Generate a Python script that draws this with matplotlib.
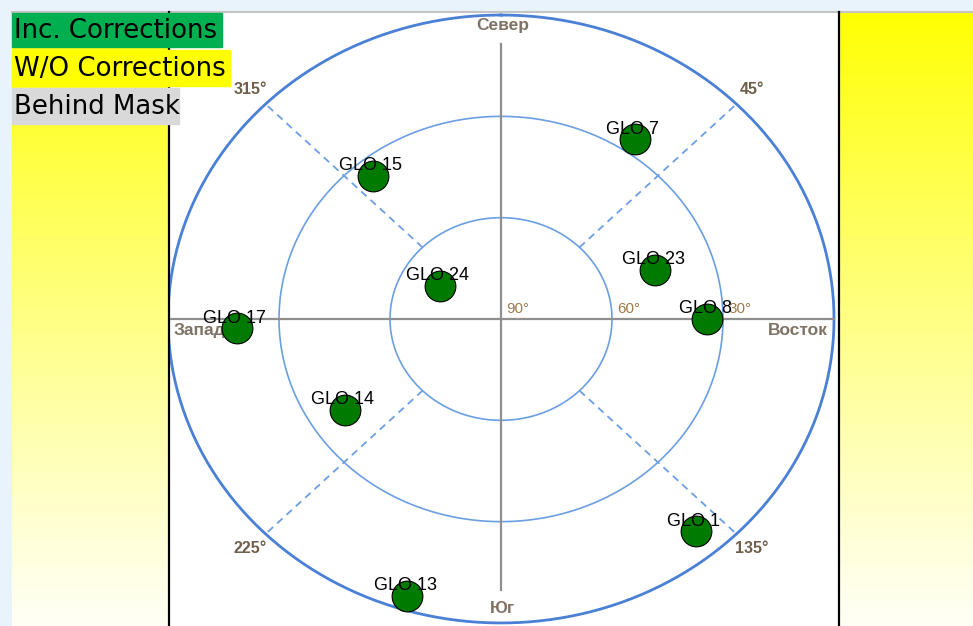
import numpy as np
import matplotlib
matplotlib.use("Agg")
import matplotlib.pyplot as plt
from matplotlib.patches import Rectangle

# Satellites: name, azimuth (deg, clockwise from north), elevation (deg)
sat_names = ["GLO 7", "GLO 15", "GLO 24", "GLO 23", "GLO 8",
             "GLO 17", "GLO 14", "GLO 1", "GLO 13"]
sat_az = [34.2, 320.7, 300.7, 70.8, 90.0, 267.8, 237.5, 140.0, 197.2]
sat_el = [25.6, 35.3, 70.8, 45.9, 34.3, 18.6, 40.0, 8.0, 4.2]

# Grid
ring_elev = [60, 30, 0]
elev_labels = ["90°", "60°", "30°"]
diag_az = [45, 135, 225, 315]
diag_labels = ["45°", "135°", "225°", "315°"]
compass = ["Север", "Восток", "Юг", "Запад"]

legend_labels = ["Inc. Corrections", "W/O Corrections", "Behind Mask"]
legend_colors = ["#00b050", "#ffff00", "#d9d9d9"]

W, H = 973, 626
fig = plt.figure(figsize=(W / 100, H / 100), dpi=100, facecolor="#e8f3fc")

# background panels (pixel coords)
bg = fig.add_axes([0, 0, 1, 1])
bg.set_xlim(0, W)
bg.set_ylim(H, 0)
bg.axis("off")
grad = np.linspace(0, 1, 256) ** 0.9
img = np.ones((256, 1, 3))
img[:, 0, 2] = grad * 0.97
bg.imshow(img, extent=(12, 168, H, 12), aspect="auto", zorder=1)
bg.imshow(img, extent=(840, W, H, 12), aspect="auto", zorder=1)
bg.add_patch(Rectangle((169, 12), 670, H - 12, color="white", zorder=1))
bg.plot([12, W], [11.5, 11.5], color="#c4c4c4", lw=1.5, zorder=2)
bg.plot([169, 169], [12, H], color="black", lw=1.6, zorder=2)
bg.plot([839, 839], [12, H], color="black", lw=1.6, zorder=2)

# legend boxes
box_rows = [(13, 47, 222), (50, 86, 230), (88, 124, 179)]
for (y0, y1, x1), lab, col in zip(box_rows, legend_labels, legend_colors):
    bg.add_patch(Rectangle((12, y0), x1 - 12, y1 - y0, color=col, zorder=3))
    bg.text(14, (y0 + y1) / 2 + 1.5, lab, fontsize=18.7, family="DejaVu Sans",
            va="center", ha="left", color="black", zorder=4)

# sky plot axes
ax = fig.add_axes([170 / W, 0, 668 / W, 614 / H])
ax.set_xlim(-89.46, 91.08)
ax.set_ylim(-90.9, 90.9)
ax.axis("off")
ax.patch.set_alpha(0)

t = np.linspace(0, 2 * np.pi, 400)
for el in ring_elev:
    r = 90 - el
    if el == 0:
        ax.plot(r * np.sin(t), r * np.cos(t), color="#4a80d6", lw=2.0, zorder=2)
    else:
        ax.plot(r * np.sin(t), r * np.cos(t), color="#6b9fe2", lw=1.2, zorder=2)

for a in diag_az:
    rad = np.deg2rad(a)
    ax.plot([30 * np.sin(rad), 90 * np.sin(rad)], [30 * np.cos(rad), 90 * np.cos(rad)],
            color="#6b9fe2", lw=1.3, ls=(0, (4, 3)), zorder=2)

ax.plot([0, 0], [-80.2, 81.4], color="#8f8f8f", lw=1.6, zorder=2)
ax.plot([-90, 90], [0, 0], color="#8f8f8f", lw=1.6, zorder=2)

lab_col = "#7e7264"
ax.text(0.5, 87, compass[0], fontsize=12.5, weight="bold", color=lab_col,
        ha="center", va="center", family="Liberation Sans", zorder=3)
ax.text(88.4, -3.3, compass[1], fontsize=12.5, weight="bold", color=lab_col,
        ha="right", va="center", family="Liberation Sans", zorder=3)
ax.text(0.5, -85.6, compass[2], fontsize=12.5, weight="bold", color=lab_col,
        ha="center", va="center", family="Liberation Sans", zorder=3)
ax.text(-88.6, -3.3, compass[3], fontsize=12.5, weight="bold", color=lab_col,
        ha="left", va="center", family="Liberation Sans", zorder=3)

for a, lab in zip(diag_az, diag_labels):
    rad = np.deg2rad(a)
    ax.text(96 * np.sin(rad), 96 * np.cos(rad), lab, fontsize=11.5, color="#6e5e4a",
            ha="center", va="center", family="Liberation Sans", weight="bold", zorder=3)

for el, lab in zip([90] + ring_elev[:2], elev_labels):
    ax.text(90 - el + 1.5, 3, lab, fontsize=11, color="#a07a4a",
            ha="left", va="center", family="Liberation Sans", zorder=3)

az = np.deg2rad(sat_az)
zd = 90 - np.array(sat_el)
sx = zd * np.sin(az)
sy = zd * np.cos(az)
ax.scatter(sx, sy, s=490, color="#007a00", edgecolors="black", linewidths=0.8, zorder=4)
for name, x, y in zip(sat_names, sx, sy):
    ax.annotate(name, (x, y), xytext=(-1.5, 4), textcoords="offset points",
                ha="center", va="baseline", fontsize=13, family="Liberation Sans",
                color="black", zorder=5)

fig.savefig("out.png", dpi=100, facecolor=fig.get_facecolor())
